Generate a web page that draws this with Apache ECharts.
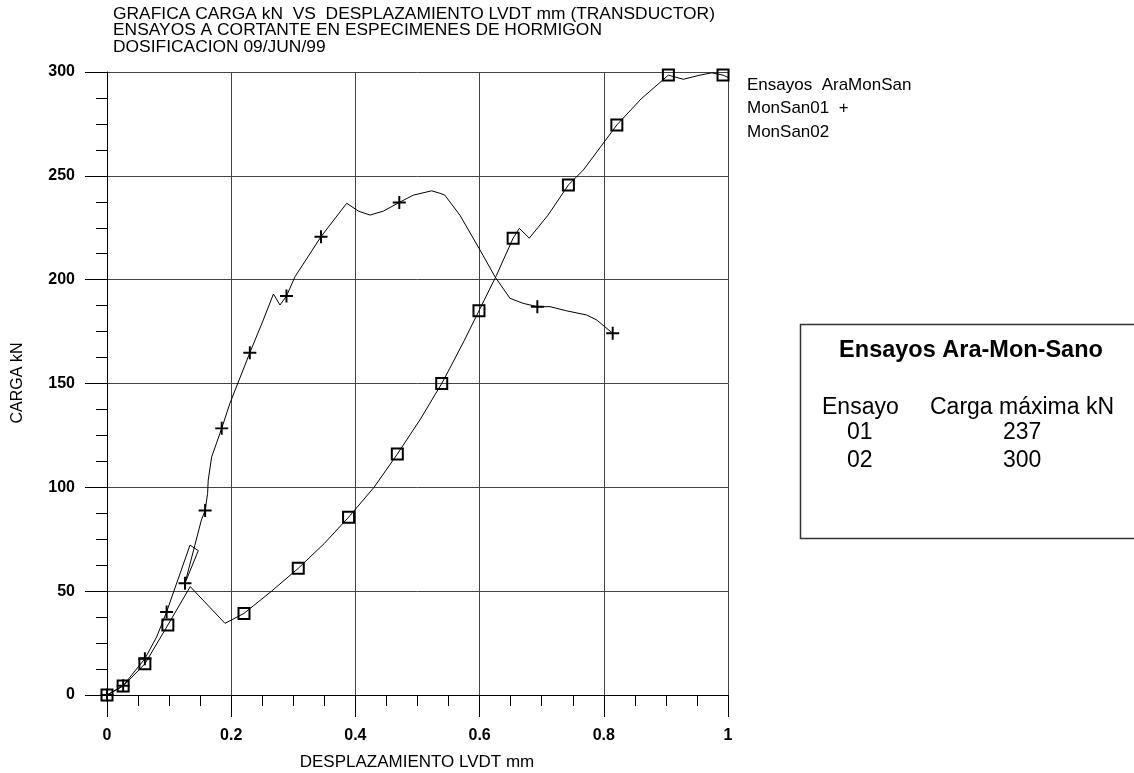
<!DOCTYPE html>
<html>
<head>
<meta charset="utf-8">
<script src="https://cdn.jsdelivr.net/npm/echarts@6/dist/echarts.min.js"></script>
<style>
html,body{margin:0;padding:0;background:#fff;}
#chart{width:1134px;height:773px;}
</style>
</head>
<body>
<div id="chart"></div>
<script>
// MonSan01 (+) curve: [desplazamiento mm, carga kN]
const ensayo01Curve = [
  [0,0],[0.026,4.5],[0.061,17.5],[0.08,28],[0.096,40],[0.1337,72.2],[0.147,69.5],
  [0.1256,53.8],[0.152,84.3],[0.158,88.8],[0.162,97],[0.163,103.5],[0.1686,114.7],
  [0.1847,128.4],[0.198,140.5],[0.230,164.8],[0.2517,180.6],[0.268,193.1],[0.2786,187.8],
  [0.289,192.1],[0.3027,201.4],[0.3446,220.7],[0.386,236.8],[0.405,233],[0.4235,231.1],
  [0.445,233],[0.4707,237.2],[0.4933,240.7],[0.5228,242.8],[0.536,241.6],[0.544,240.7],
  [0.5684,231],[0.6006,214.3],[0.6248,201.4],[0.649,191],[0.670,188.6],[0.693,187],
  [0.7134,187],[0.740,185],[0.7724,183],[0.7885,180.6],[0.8143,174.2]
];
const ensayo01Markers = [
  [0,0],[0.026,4.5],[0.061,17.5],[0.096,40],[0.1256,53.8],[0.158,88.8],[0.1847,128.4],
  [0.230,164.8],[0.289,192.1],[0.3446,220.7],[0.4707,237.2],[0.693,187],[0.8143,174.2]
];
// MonSan02 (square) curve
const ensayo02Curve = [
  [0,0],[0.026,4.3],[0.061,15],[0.098,33.7],[0.134,52.2],[0.19,34.5],[0.2206,39.3],
  [0.265,50],[0.308,61],[0.35,73],[0.389,85.6],[0.43,100],[0.4675,116],[0.505,133],
  [0.539,150],[0.552,157.3],[0.575,170.5],[0.599,185],[0.627,202],[0.654,220],
  [0.664,224.7],[0.680,220],[0.71,231],[0.743,245.6],[0.767,252.8],[0.795,264],
  [0.821,274.5],[0.86,287],[0.904,298.5],[0.928,296.5],[0.955,298.5],[0.974,299.6],
  [0.992,298.5],[1.0,297.4]
];
const ensayo02Markers = [
  [0,0],[0.026,4.3],[0.061,15],[0.098,33.7],[0.2206,39.3],[0.308,61],[0.389,85.6],
  [0.4675,116],[0.539,150],[0.599,185],[0.654,220],[0.743,245.6],[0.821,274.5],
  [0.904,298.5],[0.992,298.5]
];
const titleLines = [
  'GRAFICA CARGA kN  VS  DESPLAZAMIENTO LVDT mm (TRANSDUCTOR)',
  'ENSAYOS A CORTANTE EN ESPECIMENES DE HORMIGON',
  'DOSIFICACION 09/JUN/99'
];
const legendLines = ['Ensayos  AraMonSan', 'MonSan01  +', 'MonSan02'];
const tableTitle = 'Ensayos Ara-Mon-Sano';
const tableHeader = ['Ensayo', 'Carga máxima kN'];
const tableRows = [['01', '237'], ['02', '300']];
const xAxisName = 'DESPLAZAMIENTO LVDT mm';
const yAxisName = 'CARGA kN';

const FONT = '"Liberation Sans", Arial, sans-serif';
const chart = echarts.init(document.getElementById('chart'), null, {renderer: 'canvas'});

const plusPath = 'path://M4.25,0 L5.75,0 L5.75,4.25 L10,4.25 L10,5.75 L5.75,5.75 L5.75,10 L4.25,10 L4.25,5.75 L0,5.75 L0,4.25 L4.25,4.25 Z';

function axisCommon(interval, min, max, margin) {
  return {
    type: 'value', min: min, max: max, interval: interval,
    axisLine: {show: true, onZero: false, lineStyle: {color: '#000', width: 1}},
    axisTick: {show: true, inside: false, length: 22, lineStyle: {color: '#000', width: 1}},
    minorTick: {show: true, splitNumber: 4, length: 11, lineStyle: {color: '#000', width: 1}},
    splitLine: {show: true, lineStyle: {color: '#444', width: 1}},
    minorSplitLine: {show: false},
    axisLabel: {margin: margin, fontSize: 16, fontWeight: 'bold', color: '#000', fontFamily: FONT}
  };
}

const graphics = [];
titleLines.forEach((t, i) => {
  graphics.push({type: 'text', x: 113, y: 14 + i * 16.7,
    style: {text: t, fill: '#000', font: '17.4px ' + FONT, align: 'left', verticalAlign: 'middle'}});
});
legendLines.forEach((t, i) => {
  graphics.push({type: 'text', x: 747, y: 85 + i * 23.7,
    style: {text: t, fill: '#000', font: '17px ' + FONT, align: 'left', verticalAlign: 'middle'}});
});
graphics.push({type: 'text', x: 417, y: 762,
  style: {text: xAxisName, fill: '#000', font: '17px ' + FONT, align: 'center', verticalAlign: 'middle'}});
graphics.push({type: 'text', x: 18, y: 383, rotation: Math.PI / 2,
  style: {text: yAxisName, fill: '#000', font: '16px ' + FONT, align: 'center', verticalAlign: 'middle'}});
graphics.push({type: 'rect', shape: {x: 800.5, y: 324.5, width: 400, height: 214},
  style: {fill: '#fff', stroke: '#333', lineWidth: 1.5}, z: 10});
graphics.push({type: 'text', x: 971, y: 351, z: 11,
  style: {text: tableTitle, fill: '#000', font: 'bold 23.5px ' + FONT, align: 'center', verticalAlign: 'middle'}});
graphics.push({type: 'text', x: 822, y: 408, z: 11,
  style: {text: tableHeader[0], fill: '#000', font: '23px ' + FONT, align: 'left', verticalAlign: 'middle'}});
graphics.push({type: 'text', x: 930, y: 408, z: 11,
  style: {text: tableHeader[1], fill: '#000', font: '23px ' + FONT, align: 'left', verticalAlign: 'middle'}});
tableRows.forEach((r, i) => {
  graphics.push({type: 'text', x: 847, y: 433 + i * 28, z: 11,
    style: {text: r[0], fill: '#000', font: '23px ' + FONT, align: 'left', verticalAlign: 'middle'}});
  graphics.push({type: 'text', x: 1003, y: 433 + i * 28, z: 11,
    style: {text: r[1], fill: '#000', font: '23px ' + FONT, align: 'left', verticalAlign: 'middle'}});
});

chart.setOption({
  backgroundColor: '#fff',
  animation: false,
  grid: {left: 107, right: 406, top: 72, bottom: 78, containLabel: false},
  xAxis: axisCommon(0.2, 0, 1, 33),
  yAxis: axisCommon(50, 0, 300, 32),
  series: [
    {type: 'line', data: ensayo01Curve, showSymbol: false, symbol: 'none',
     lineStyle: {color: '#000', width: 1}, z: 3, silent: true},
    {type: 'line', data: ensayo02Curve, showSymbol: false, symbol: 'none',
     lineStyle: {color: '#000', width: 1}, z: 3, silent: true},
    {type: 'scatter', data: ensayo01Markers, symbol: plusPath, symbolSize: 13,
     itemStyle: {color: '#000', opacity: 1}, z: 5, silent: true},
    {type: 'scatter', data: ensayo02Markers, symbol: 'rect', symbolSize: 11,
     itemStyle: {color: 'rgba(0,0,0,0)', borderColor: '#000', borderWidth: 2, opacity: 1}, z: 5, silent: true}
  ],
  graphic: graphics
});
</script>
</body>
</html>
